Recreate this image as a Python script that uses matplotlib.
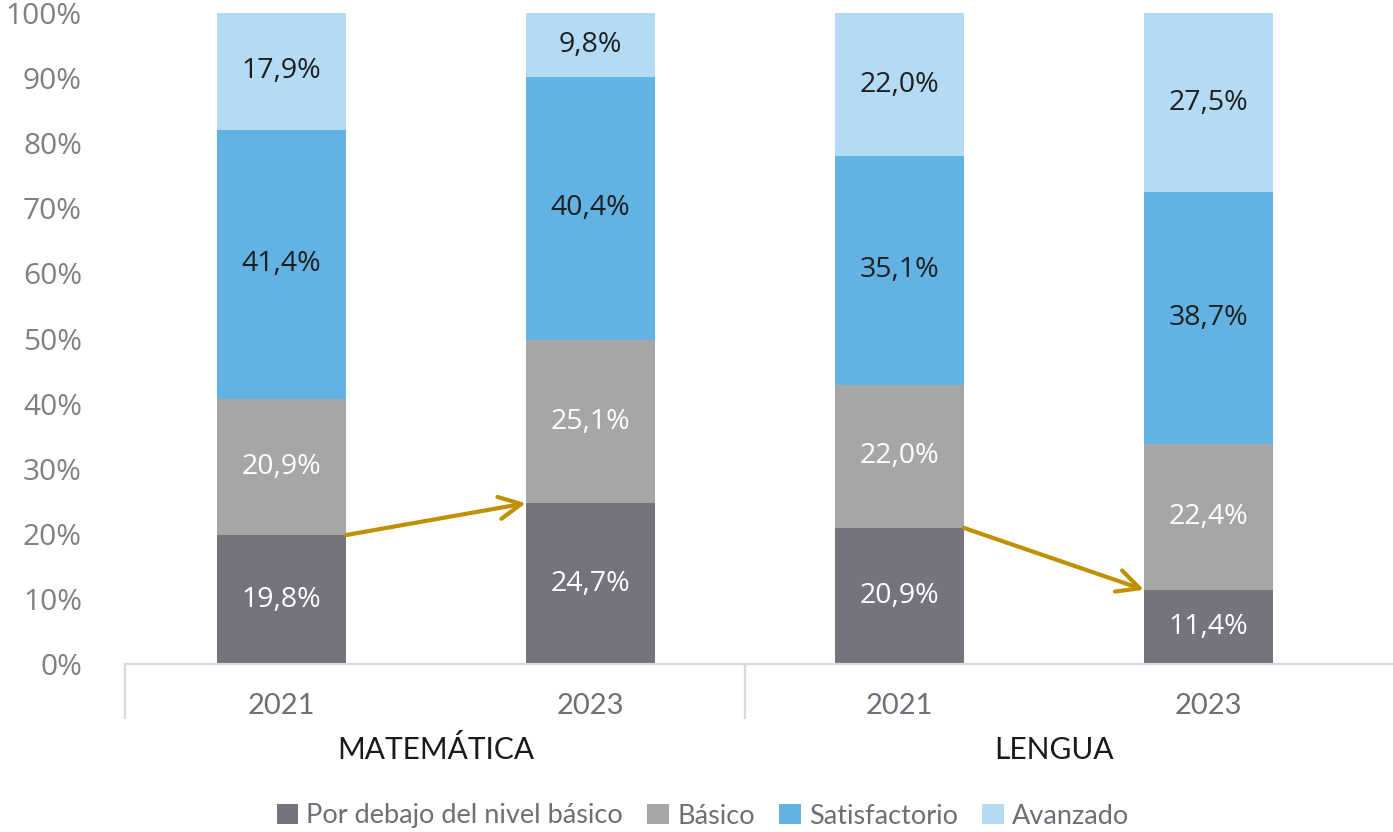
import matplotlib.pyplot as plt

# Data
years = ["2021", "2023", "2021", "2023"]
subjects = ["MATEMÁTICA", "LENGUA"]
levels = ["Por debajo del nivel básico", "Básico", "Satisfactorio", "Avanzado"]
below_basic = [19.8, 24.7, 20.9, 11.4]
basic = [20.9, 25.1, 22.0, 22.4]
satisfactory = [41.4, 40.4, 35.1, 38.7]
advanced = [17.9, 9.8, 22.0, 27.5]

colors = ["#74737e", "#a6a6a5", "#62b3e3", "#b3dbf4"]
label_colors = ["white", "white", "#1f1f1f", "#1f1f1f"]
arrow_color = "#bf9000"

plt.rcParams['font.family'] = ['Open Sans', 'DejaVu Sans']

fig = plt.figure(figsize=(13.93, 8.32), dpi=100)
ax = fig.add_axes([125 / 1393, 168 / 832, 1 - 125 / 1393, 651 / 832])

x = list(range(len(years)))
width = 0.4175
series = [below_basic, basic, satisfactory, advanced]
bottom = [0.0] * len(x)
for vals, col, tcol, name in zip(series, colors, label_colors, levels):
    ax.bar(x, vals, width, bottom=bottom, color=col, label=name, zorder=2)
    for xi, v, b in zip(x, vals, bottom):
        ax.text(xi, b + v / 2, f"{v:.1f}%".replace(".", ","), ha="center", va="center",
                fontsize=20.5, color=tcol, zorder=3)
    bottom = [b + v for b, v in zip(bottom, vals)]

ax.set_ylim(0, 100)
ax.set_xlim(-0.506, 3.597)
ax.set_yticks(range(0, 101, 10))
ax.set_yticklabels([f"{t}%" for t in range(0, 101, 10)])
ax.tick_params(axis="y", length=0, pad=31, labelsize=21.5, labelcolor="#808080")
ax.set_xticks(x)
ax.set_xticklabels(years)
ax.tick_params(axis="x", length=0, pad=21, labelsize=21, labelcolor="#6e6e78")
for lbl in ax.get_xticklabels():
    lbl.set_fontfamily(['Lato', 'DejaVu Sans'])

for s in ["top", "right", "left"]:
    ax.spines[s].set_visible(False)
ax.spines["bottom"].set_color("#d9d9d9")
ax.spines["bottom"].set_linewidth(1.6)

# group separators below the axis
trans = ax.get_xaxis_transform()
for sx in [-0.506, 1.5]:
    ax.plot([sx, sx], [0, -0.083], transform=trans, color="#d9d9d9", lw=1.6, clip_on=False)

# subject labels
for i, subj in enumerate(subjects):
    ax.text((x[2 * i] + x[2 * i + 1]) / 2, -0.132, subj, transform=trans, ha="center",
            va="center", fontsize=21.5, color="#1a1a1a", family=['Lato', 'DejaVu Sans'])

# arrows between below-basic tops
for i in range(len(subjects)):
    a, b = 2 * i, 2 * i + 1
    ax.annotate("", xy=(x[b] - width / 2, below_basic[b]), xytext=(x[a] + width / 2, below_basic[a]),
                arrowprops=dict(arrowstyle="->", color=arrow_color, lw=3, mutation_scale=40,
                                shrinkA=0, shrinkB=0), zorder=4)

handles, labs = ax.get_legend_handles_labels()
leg = fig.legend(handles, labs, loc="center", bbox_to_anchor=(703 / 1393, 16 / 832), ncol=4,
                 frameon=False, handlelength=0.8, handleheight=0.8, handletextpad=0.3,
                 columnspacing=0.9, prop={"family": ['Lato', 'DejaVu Sans'], "size": 19.5})
for t in leg.get_texts():
    t.set_color("#6e6e78")

fig.savefig("out.png", dpi=100)
